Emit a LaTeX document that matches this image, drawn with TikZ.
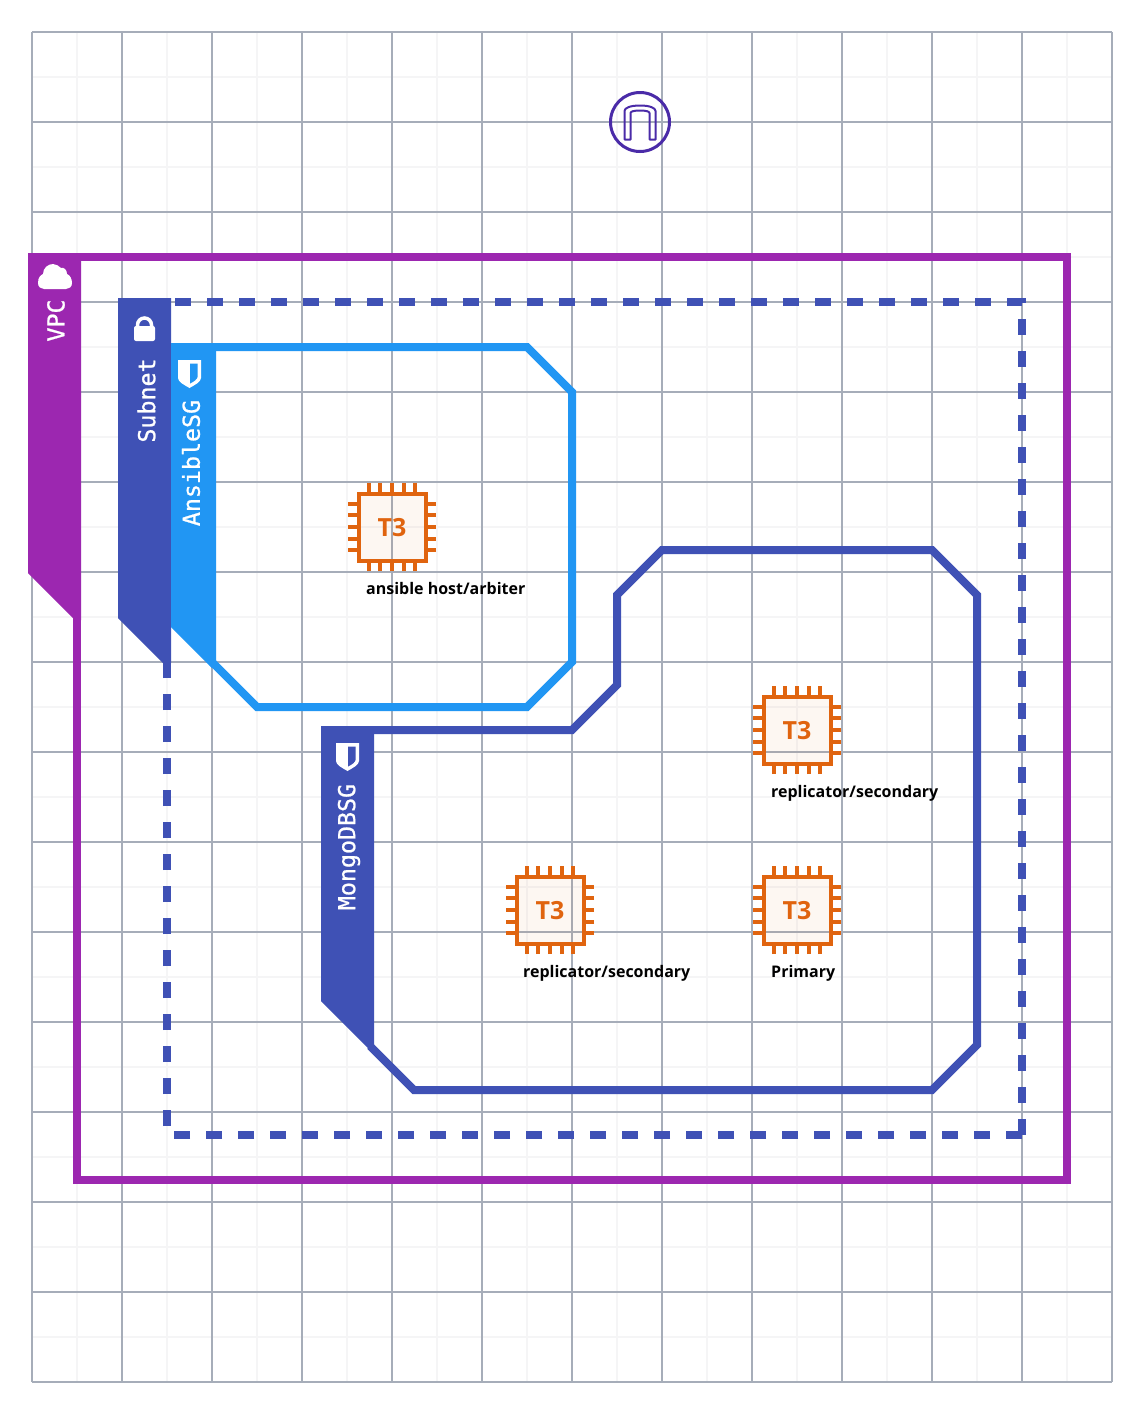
\documentclass[tikz,border=0pt]{standalone}
\usepackage{fontspec}
\setmainfont{Noto Sans}[BoldFont={Open Sans Bold}]
\newfontfamily\labelmono{DejaVu Sans Mono}[FakeBold=0.9]
\definecolor{vpcc}{HTML}{9C27B0}
\definecolor{indigoc}{HTML}{3F51B5}
\definecolor{bluec}{HTML}{2196F3}
\definecolor{chipc}{HTML}{E0640F}
\definecolor{igwc}{HTML}{4A2BA8}
\definecolor{majorc}{HTML}{A6ADB9}
\definecolor{minorc}{HTML}{F5F5F6}
\tikzset{
  minorline/.style={draw=minorc,line width=2pt},
  majorline/.style={draw=majorc,line width=2pt},
  group/.style={line width=8pt,miter limit=10,line join=miter},
  tab/.style={text=white,rotate=90,inner sep=0pt,font=\labelmono\fontsize{23.3}{23.3}\selectfont},
  chiptext/.style={text=chipc,inner sep=0pt,font=\bfseries\fontsize{25}{25}\selectfont},
  caption/.style={text=black,anchor=base west,inner sep=0pt,font=\bfseries\fontsize{16}{16}\selectfont},
  pin/.style={draw=chipc,line width=4pt},
}
\newcommand{\chipicon}[3]{%
  \begin{scope}[shift={(#1,#2)}]
    \foreach \o in {-23.4,-11.7,0,11.7,23.4}{
      \draw[pin] (\o,-44) -- (\o,-33);
      \draw[pin] (\o,44) -- (\o,33);
      \draw[pin] (-44,\o) -- (-33,\o);
      \draw[pin] (44,\o) -- (33,\o);
    }
    \draw[draw=chipc,line width=4pt,fill=chipc,fill opacity=.05] (-33.5,-33.5) rectangle (33.5,33.5);
    \node[chiptext] (#3) at (0,0.7) {T3};
  \end{scope}}
\newcommand{\shieldicon}[3]{%
  \begin{scope}[shift={(#1,#2)}]
    \fill[white] (-11.5,0) -- (11.5,0) -- (11.5,18) .. controls (11.5,22) and (5,25) .. (0,28) .. controls (-5,25) and (-11.5,22) .. (-11.5,18) -- cycle;
    \fill[#3] (0.5,3.5) -- (8,3.5) -- (8,17) .. controls (8,19) and (4,22) .. (0.5,23.5) -- cycle;
  \end{scope}}
\begin{document}
\begin{tikzpicture}[x=1pt,y=-1pt]
\useasboundingbox (0,0) rectangle (1144,1414);
\fill[white] (0,0) rectangle (1144,1414);
% grid
\foreach \x in {77,167,...,1112} \draw[minorline] (\x,32) -- (\x,1382);
\foreach \y in {77,167,...,1382} \draw[minorline] (32,\y) -- (1112,\y);
\foreach \x in {32,122,...,1112} \draw[majorline] (\x,32) -- (\x,1382);
\foreach \y in {32,122,...,1382} \draw[majorline] (32,\y) -- (1112,\y);
% internet gateway
\node[draw=igwc,line width=3pt,circle,minimum size=59pt,inner sep=0pt] (igw) at (640,122) {};
\draw[igwc,line width=2pt,line join=round] (624.5,139.5) -- (624.5,111) .. controls (624.5,108) and (630,105.5) .. (640,105.5) .. controls (650,105.5) and (655.5,108) .. (655.5,111) -- (655.5,139.5) -- (649.5,139.5) -- (649.5,113) .. controls (649.5,111.5) and (646,110.5) .. (640,110.5) .. controls (634,110.5) and (630.5,111.5) .. (630.5,113) -- (630.5,139.5) -- cycle;
% VPC
\draw[group,vpcc] (77,257) rectangle (1067,1179.5);
\fill[vpcc] (28,253) -- (81,253) -- (81,620) -- (75,620) -- (28,573) -- cycle;
\fill[white] (38,283) .. controls (38,277) and (41,275) .. (43,274) .. controls (43,268) and (48,264) .. (53,264) .. controls (56,264) and (59,266) .. (61,268) .. controls (64,267) and (67,270) .. (67,274) .. controls (70,275) and (72,279) .. (72,283) .. controls (72,287) and (69,289) .. (66,289) -- (44,289) .. controls (41,289) and (38,287) .. (38,283) -- cycle;
\node[tab] (vpclabel) at (56,320.5) {VPC};
% subnet
\draw[group,indigoc,dash pattern=on 16pt off 16pt] (175,302) -- (1022,302) -- (1022,1135);
\draw[group,indigoc,dash pattern=on 16pt off 16pt] (1022,1135) -- (167,1135) -- (167,663);
\fill[indigoc] (118,298) -- (171,298) -- (171,663) -- (163,663) -- (118,618) -- cycle;
\fill[white,rounded corners=2pt] (134,326) rectangle (155,341);
\draw[white,line width=3.5pt] (137.5,328) -- (137.5,325) arc[start angle=180,end angle=360,radius=7] -- (151.5,328);
\node[tab] (subnetlabel) at (146.5,400.5) {Subnet};
% ansible group
\draw[group,bluec] (212,347) -- (527,347) -- (572,392) -- (572,662) -- (527,707) -- (257,707) -- (212,662);
\fill[bluec] (171,343) -- (216,343) -- (216,662) -- (212,668) -- (171,627) -- cycle;
\shieldicon{189.5}{360}{bluec}
\node[tab] (ansiblelabel) at (191,463) {AnsibleSG};
% mongo group
\draw[group,indigoc] (370,730) -- (572,730) -- (617,685) -- (617,595) -- (662,550) -- (932,550) -- (977,595) -- (977,1045) -- (932,1090) -- (414,1090) -- (370,1046);
\fill[indigoc] (321,726) -- (374,726) -- (374,1050) -- (370,1050) -- (321,1001) -- cycle;
\shieldicon{347.5}{743}{indigoc}
\node[tab] (mongolabel) at (349,847) {MongoDBSG};
% instances
\chipicon{392}{527}{chipa}
\chipicon{797}{730}{chipb}
\chipicon{550}{910}{chipc}
\chipicon{797}{910}{chipd}
\node[caption] (capa) at (366,594) {ansible host/arbiter};
\node[caption] (capb) at (771,797) {replicator/secondary};
\node[caption] (capc) at (523,977) {replicator/secondary};
\node[caption] (capd) at (771,977) {Primary};
\end{tikzpicture}
\end{document}
